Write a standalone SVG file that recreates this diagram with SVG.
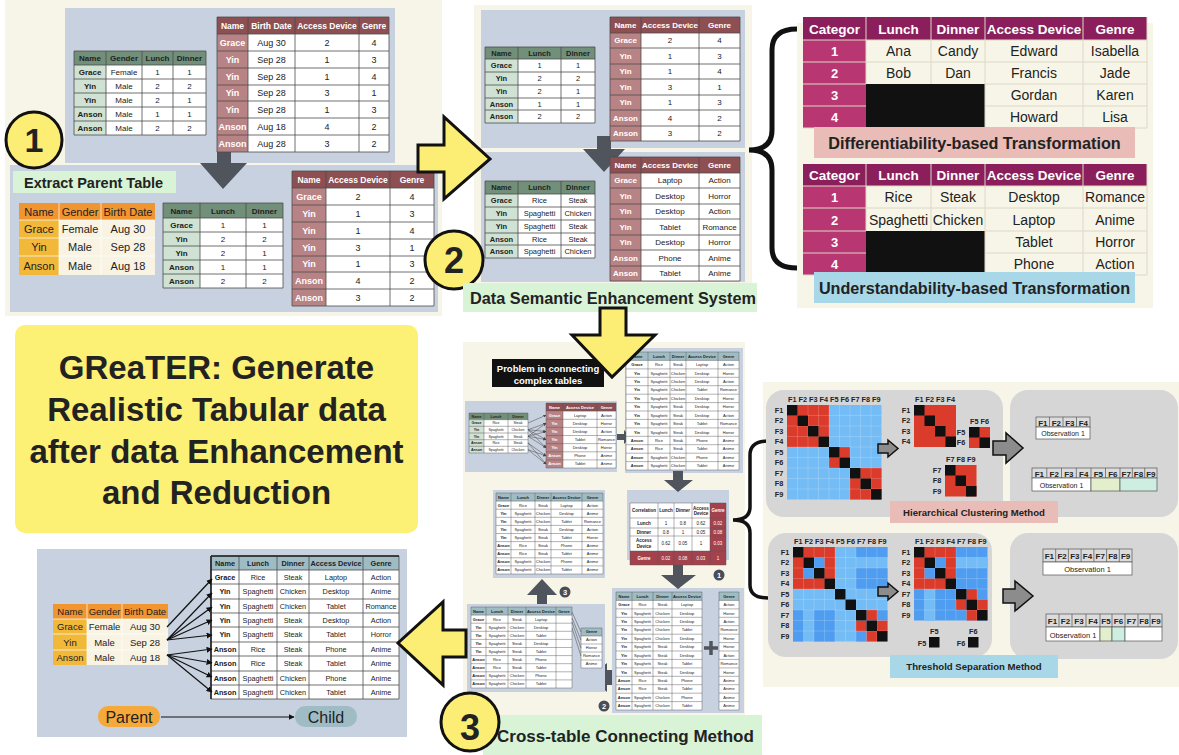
<svg xmlns="http://www.w3.org/2000/svg" width="1179" height="755" viewBox="0 0 1179 755">
<defs>
<style>
text{font-family:"Liberation Sans",Arial,Helvetica,sans-serif;text-anchor:middle;fill:#222}
.b{font-weight:bold}
.w{fill:#fff}
.st{text-anchor:start}
.cream{fill:#f7f5e7}
.pnl{fill:#c8d1df}
.gr{fill:none;stroke:#4d4d4d;stroke-width:.8}
.gt{fill:none;stroke:#555;stroke-width:.45}
.lt{fill:none;stroke:#ddd8c6;stroke-width:1}
.wl{fill:none;stroke:#fff;stroke-width:1;opacity:.7}
.ml{fill:none;stroke:#fff;stroke-width:.5;opacity:.35}
.dk{fill:#50545c}
.yel{fill:#fcee74;stroke:#111;stroke-width:3;stroke-linejoin:miter}
.gh{fill:#718f79}.gn{fill:#cfe2d3}
.mh{fill:#8d4f52}.mn{fill:#b88385}
.oh{fill:#f0952f}.on{fill:#f2b83a}.od{fill:#f8f3e3}
.th{fill:#9fbcc4}
.wh{fill:#fff}
.red{fill:#db3b2b}.lb{fill:#74bcf5}.mb{fill:#4f9df0}.blk{fill:#111}
.gp{fill:#d6d6d6}
.ga{fill:#8c8c8c;stroke:#111;stroke-width:1.5;stroke-linejoin:miter}
.sc{fill:#4a4d55}
.mg{fill:#8a1f5c}.mc{fill:#b83672}
.hd{fill:#dcdcdc;stroke:#555;stroke-width:.7}
.ob{stroke:#555;stroke-width:.7}
.cn{fill:none;stroke:#111;stroke-width:1.2}
.cs{fill:none;stroke:#444;stroke-width:.5}
</style>
<marker id="ah" viewBox="0 0 10 10" refX="9" refY="5" markerWidth="5" markerHeight="5" orient="auto"><path d="M0,0L10,5L0,10z" fill="#111"/></marker>
<marker id="ahs" viewBox="0 0 10 10" refX="9" refY="5" markerWidth="6" markerHeight="6" orient="auto"><path d="M0,0L10,5L0,10z" fill="#444"/></marker>
</defs>
<rect x="0" y="0" width="1179" height="755" fill="#fff"/>

<!-- ===== Panel 1 ===== -->
<g id="panel1">
<rect class="cream" x="5" y="0" width="437" height="316"/>
<rect class="pnl" x="65" y="8" width="330" height="155"/>
<rect class="pnl" x="10" y="165" width="428" height="147"/>
<polygon class="dk" points="217,148 231,148 231,163 247,163 223,189 200,163 217,163"/>
</g>

<g id="tblA" font-size="8">
<rect class="wh" x="74" y="51" width="132" height="84"/>
<rect class="gh" x="74" y="51" width="132" height="14"/>
<rect class="gn" x="74" y="65" width="32" height="70"/>
<path class="gr" d="M74 51V135M106 51V135M142 51V135M173 51V135M206 51V135M74 51H206M74 65H206M74 79H206M74 93H206M74 107H206M74 121H206M74 135H206"/>
<text y="61" class="b"><tspan x="90">Name</tspan><tspan x="124">Gender</tspan><tspan x="157.5">Lunch</tspan><tspan x="189.5">Dinner</tspan></text>
<text y="75"><tspan x="90" class="b">Grace</tspan><tspan x="124">Female</tspan><tspan x="157.5">1</tspan><tspan x="189.5">1</tspan></text>
<text y="89"><tspan x="90" class="b">Yin</tspan><tspan x="124">Male</tspan><tspan x="157.5">2</tspan><tspan x="189.5">2</tspan></text>
<text y="103"><tspan x="90" class="b">Yin</tspan><tspan x="124">Male</tspan><tspan x="157.5">2</tspan><tspan x="189.5">1</tspan></text>
<text y="117"><tspan x="90" class="b">Anson</tspan><tspan x="124">Male</tspan><tspan x="157.5">1</tspan><tspan x="189.5">1</tspan></text>
<text y="131"><tspan x="90" class="b">Anson</tspan><tspan x="124">Male</tspan><tspan x="157.5">2</tspan><tspan x="189.5">2</tspan></text>
</g>

<g id="tblB" font-size="9">
<rect class="wh" x="217" y="17" width="172" height="135"/>
<rect class="mh" x="217" y="17" width="172" height="17"/>
<rect class="mn" x="217" y="34" width="31" height="118"/>
<path class="gr" d="M217 17V152M248 17V152M295 17V152M359 17V152M389 17V152M217 17H389M217 34H389M217 51H389M217 68H389M217 85H389M217 101H389M217 118H389M217 135H389M217 152H389"/>
<text y="28.5" class="b w" font-size="8.5"><tspan x="232.5">Name</tspan><tspan x="271.5">Birth Date</tspan><tspan x="327">Access Device</tspan><tspan x="374">Genre</tspan></text>
<text y="45.5"><tspan x="232.5" class="b w">Grace</tspan><tspan x="271.5">Aug 30</tspan><tspan x="327">2</tspan><tspan x="374">4</tspan></text>
<text y="62.5"><tspan x="232.5" class="b w">Yin</tspan><tspan x="271.5">Sep 28</tspan><tspan x="327">1</tspan><tspan x="374">3</tspan></text>
<text y="79.5"><tspan x="232.5" class="b w">Yin</tspan><tspan x="271.5">Sep 28</tspan><tspan x="327">1</tspan><tspan x="374">4</tspan></text>
<text y="96"><tspan x="232.5" class="b w">Yin</tspan><tspan x="271.5">Sep 28</tspan><tspan x="327">3</tspan><tspan x="374">1</tspan></text>
<text y="112.5"><tspan x="232.5" class="b w">Yin</tspan><tspan x="271.5">Sep 28</tspan><tspan x="327">1</tspan><tspan x="374">3</tspan></text>
<text y="129.5"><tspan x="232.5" class="b w">Anson</tspan><tspan x="271.5">Aug 18</tspan><tspan x="327">4</tspan><tspan x="374">2</tspan></text>
<text y="146.5"><tspan x="232.5" class="b w">Anson</tspan><tspan x="271.5">Aug 28</tspan><tspan x="327">3</tspan><tspan x="374">2</tspan></text>
</g>

<g id="label-extract">
<rect x="13" y="171" width="163" height="22" fill="#d8f3d6"/>
<text x="24" y="188" class="b st" font-size="14.5">Extract Parent Table</text>
</g>

<g id="tblParent1" font-size="11">
<rect class="od" x="19" y="203" width="136" height="72"/>
<rect class="oh" x="19" y="203" width="136" height="17"/>
<rect class="on" x="19" y="220" width="40" height="55"/>
<path class="wl" d="M59 203V275M101 203V275M19 220H155M19 238H155M19 256H155"/>
<text y="215.5"><tspan x="39">Name</tspan><tspan x="80">Gender</tspan><tspan x="128">Birth Date</tspan></text>
<text y="233"><tspan x="39">Grace</tspan><tspan x="80">Female</tspan><tspan x="128">Aug 30</tspan></text>
<text y="251"><tspan x="39">Yin</tspan><tspan x="80">Male</tspan><tspan x="128">Sep 28</tspan></text>
<text y="269.5"><tspan x="39">Anson</tspan><tspan x="80">Male</tspan><tspan x="128">Aug 18</tspan></text>
</g>

<g id="tblC" font-size="8">
<rect class="wh" x="163" y="203" width="120" height="85"/>
<rect class="gh" x="163" y="203" width="120" height="15"/>
<rect class="gn" x="163" y="218" width="37" height="70"/>
<path class="gr" d="M163 203V288M200 203V288M246 203V288M283 203V288M163 203H283M163 218H283M163 232H283M163 246H283M163 260H283M163 274H283M163 288H283"/>
<text y="213.5" class="b"><tspan x="181.5">Name</tspan><tspan x="223">Lunch</tspan><tspan x="264.5">Dinner</tspan></text>
<text y="228"><tspan x="181.5" class="b">Grace</tspan><tspan x="223">1</tspan><tspan x="264.5">1</tspan></text>
<text y="242"><tspan x="181.5" class="b">Yin</tspan><tspan x="223">2</tspan><tspan x="264.5">2</tspan></text>
<text y="256"><tspan x="181.5" class="b">Yin</tspan><tspan x="223">2</tspan><tspan x="264.5">1</tspan></text>
<text y="270"><tspan x="181.5" class="b">Anson</tspan><tspan x="223">1</tspan><tspan x="264.5">1</tspan></text>
<text y="284"><tspan x="181.5" class="b">Anson</tspan><tspan x="223">2</tspan><tspan x="264.5">2</tspan></text>
</g>

<g id="tblD1" font-size="9">
<rect class="wh" x="292" y="171" width="142" height="135"/>
<rect class="mh" x="292" y="171" width="142" height="17"/>
<rect class="mn" x="292" y="188" width="34" height="118"/>
<path class="gr" d="M292 171V306M326 171V306M390 171V306M434 171V306M292 171H434M292 188H434M292 205H434M292 222H434M292 239H434M292 256H434M292 272H434M292 289H434M292 306H434"/>
<text y="182.5" class="b w" font-size="8.5"><tspan x="309">Name</tspan><tspan x="358">Access Device</tspan><tspan x="412">Genre</tspan></text>
<text y="199.5"><tspan x="309" class="b w">Grace</tspan><tspan x="358">2</tspan><tspan x="412">4</tspan></text>
<text y="216.5"><tspan x="309" class="b w">Yin</tspan><tspan x="358">1</tspan><tspan x="412">3</tspan></text>
<text y="233.5"><tspan x="309" class="b w">Yin</tspan><tspan x="358">1</tspan><tspan x="412">4</tspan></text>
<text y="250.5"><tspan x="309" class="b w">Yin</tspan><tspan x="358">3</tspan><tspan x="412">1</tspan></text>
<text y="267"><tspan x="309" class="b w">Yin</tspan><tspan x="358">1</tspan><tspan x="412">3</tspan></text>
<text y="283.5"><tspan x="309" class="b w">Anson</tspan><tspan x="358">4</tspan><tspan x="412">2</tspan></text>
<text y="300.5"><tspan x="309" class="b w">Anson</tspan><tspan x="358">3</tspan><tspan x="412">2</tspan></text>
</g>

<g id="badge1">
<circle cx="34" cy="140" r="28" class="yel"/>
<text x="34" y="152" class="b" font-size="34" fill="#111">1</text>
</g>

<!-- ===== Panel 2 ===== -->
<g id="panel2">
<rect class="cream" x="474" y="5" width="278" height="305"/>
<rect class="pnl" x="481" y="10" width="264" height="138"/>
<rect class="pnl" x="481" y="152" width="264" height="130"/>
<polygon class="dk" points="597,136 611,136 611,149 625,149 604,172 583,149 597,149"/>
</g>

<g id="tblE" font-size="7.5">
<rect class="wh" x="485" y="47" width="110" height="76"/>
<rect class="gh" x="485" y="47" width="110" height="12"/>
<rect class="gn" x="485" y="59" width="33" height="64"/>
<path class="gr" d="M485 47V123M518 47V123M561 47V123M595 47V123M485 47H595M485 59H595M485 72H595M485 85H595M485 98H595M485 110H595M485 123H595"/>
<text y="55.7" class="b"><tspan x="501.5">Name</tspan><tspan x="539.5">Lunch</tspan><tspan x="578">Dinner</tspan></text>
<text y="68.2"><tspan x="501.5" class="b">Grace</tspan><tspan x="539.5">1</tspan><tspan x="578">1</tspan></text>
<text y="81.2"><tspan x="501.5" class="b">Yin</tspan><tspan x="539.5">2</tspan><tspan x="578">2</tspan></text>
<text y="94.2"><tspan x="501.5" class="b">Yin</tspan><tspan x="539.5">2</tspan><tspan x="578">1</tspan></text>
<text y="106.7"><tspan x="501.5" class="b">Anson</tspan><tspan x="539.5">1</tspan><tspan x="578">1</tspan></text>
<text y="119.2"><tspan x="501.5" class="b">Anson</tspan><tspan x="539.5">2</tspan><tspan x="578">2</tspan></text>
</g>

<g id="tblF" font-size="8">
<rect class="wh" x="610" y="17" width="130" height="124"/>
<rect class="mh" x="610" y="17" width="130" height="16"/>
<rect class="mn" x="610" y="33" width="31" height="108"/>
<path class="gr" d="M610 17V141M641 17V141M699 17V141M740 17V141M610 17H740M610 33H740M610 48H740M610 64H740M610 79H740M610 95H740M610 110H740M610 126H740M610 141H740"/>
<text y="27.8" class="b w"><tspan x="625.5">Name</tspan><tspan x="670">Access Device</tspan><tspan x="719.5">Genre</tspan></text>
<text y="43.3"><tspan x="625.5" class="b w">Grace</tspan><tspan x="670">2</tspan><tspan x="719.5">4</tspan></text>
<text y="58.8"><tspan x="625.5" class="b w">Yin</tspan><tspan x="670">1</tspan><tspan x="719.5">3</tspan></text>
<text y="74.3"><tspan x="625.5" class="b w">Yin</tspan><tspan x="670">1</tspan><tspan x="719.5">4</tspan></text>
<text y="89.8"><tspan x="625.5" class="b w">Yin</tspan><tspan x="670">3</tspan><tspan x="719.5">1</tspan></text>
<text y="105.3"><tspan x="625.5" class="b w">Yin</tspan><tspan x="670">1</tspan><tspan x="719.5">3</tspan></text>
<text y="120.8"><tspan x="625.5" class="b w">Anson</tspan><tspan x="670">4</tspan><tspan x="719.5">2</tspan></text>
<text y="136.3"><tspan x="625.5" class="b w">Anson</tspan><tspan x="670">3</tspan><tspan x="719.5">2</tspan></text>
</g>

<g id="tblG" font-size="7.5">
<rect class="wh" x="485" y="181" width="110" height="77"/>
<rect class="gh" x="485" y="181" width="110" height="13"/>
<rect class="gn" x="485" y="194" width="33" height="64"/>
<path class="gr" d="M485 181V258M518 181V258M561 181V258M595 181V258M485 181H595M485 194H595M485 207H595M485 220H595M485 233H595M485 245H595M485 258H595"/>
<text y="190.2" class="b"><tspan x="501.5">Name</tspan><tspan x="539.5">Lunch</tspan><tspan x="578">Dinner</tspan></text>
<text y="203.2"><tspan x="501.5" class="b">Grace</tspan><tspan x="539.5">Rice</tspan><tspan x="578">Steak</tspan></text>
<text y="216.2"><tspan x="501.5" class="b">Yin</tspan><tspan x="539.5">Spaghetti</tspan><tspan x="578">Chicken</tspan></text>
<text y="229.2"><tspan x="501.5" class="b">Yin</tspan><tspan x="539.5">Spaghetti</tspan><tspan x="578">Steak</tspan></text>
<text y="241.7"><tspan x="501.5" class="b">Anson</tspan><tspan x="539.5">Rice</tspan><tspan x="578">Steak</tspan></text>
<text y="254.2"><tspan x="501.5" class="b">Anson</tspan><tspan x="539.5">Spaghetti</tspan><tspan x="578">Chicken</tspan></text>
</g>

<g id="tblH" font-size="8">
<rect class="wh" x="610" y="157" width="130" height="124"/>
<rect class="mh" x="610" y="157" width="130" height="16"/>
<rect class="mn" x="610" y="173" width="31" height="108"/>
<path class="gr" d="M610 157V281M641 157V281M699 157V281M740 157V281M610 157H740M610 173H740M610 188H740M610 204H740M610 219H740M610 235H740M610 250H740M610 266H740M610 281H740"/>
<text y="167.8" class="b w"><tspan x="625.5">Name</tspan><tspan x="670">Access Device</tspan><tspan x="719.5">Genre</tspan></text>
<text y="183.3"><tspan x="625.5" class="b w">Grace</tspan><tspan x="670">Laptop</tspan><tspan x="719.5">Action</tspan></text>
<text y="198.8"><tspan x="625.5" class="b w">Yin</tspan><tspan x="670">Desktop</tspan><tspan x="719.5">Horror</tspan></text>
<text y="214.3"><tspan x="625.5" class="b w">Yin</tspan><tspan x="670">Desktop</tspan><tspan x="719.5">Action</tspan></text>
<text y="229.8"><tspan x="625.5" class="b w">Yin</tspan><tspan x="670">Tablet</tspan><tspan x="719.5">Romance</tspan></text>
<text y="245.3"><tspan x="625.5" class="b w">Yin</tspan><tspan x="670">Desktop</tspan><tspan x="719.5">Horror</tspan></text>
<text y="260.8"><tspan x="625.5" class="b w">Anson</tspan><tspan x="670">Phone</tspan><tspan x="719.5">Anime</tspan></text>
<text y="276.3"><tspan x="625.5" class="b w">Anson</tspan><tspan x="670">Tablet</tspan><tspan x="719.5">Anime</tspan></text>
</g>

<g id="badge2">
<circle cx="454" cy="260" r="29" class="yel"/>
<text x="454" y="273" class="b" font-size="36" fill="#111">2</text>
</g>

<g id="label-dses">
<rect x="463" y="283" width="294" height="29" fill="#d8f3d6"/>
<text x="470" y="304" class="b st" font-size="16.3" fill="#111">Data Semantic Enhancement System</text>
</g>

<g id="arrow-1to2">
<polygon class="yel" points="418,145 444,145 444,117 490,159 444,199 444,172 418,172"/>
</g>

<!-- ===== Right top ===== -->
<g id="panel-transform">
<rect class="cream" x="797" y="23" width="356" height="285"/>
<path d="M797,29 Q772,29 772,50 L772,130 Q772,150 749,150 Q772,150 772,170 L772,248 Q772,268 797,268" fill="none" stroke="#111" stroke-width="5"/>
</g>

<g id="tblDiff" font-size="14">
<rect class="cream" x="803" y="17" width="344" height="111"/>
<rect class="mg" x="803" y="17" width="344" height="23"/>
<rect class="mc" x="803" y="40" width="63" height="88"/>
<rect class="blk" x="866" y="84" width="119" height="44"/>
<path class="lt" d="M866 17V84M931 17V84M985 17V128M1083 17V128M1147 17V128M803 40H1147M803 62H1147M803 84H866M985 84H1147M803 106H866M985 106H1147M803 128H1147"/>
<text y="33.5" class="b w" font-size="13.5"><tspan x="834.5">Categor</tspan><tspan x="898.5">Lunch</tspan><tspan x="958">Dinner</tspan><tspan x="1034">Access Device</tspan><tspan x="1115">Genre</tspan></text>
<text y="56"><tspan x="834.5" class="b w" font-size="13">1</tspan><tspan x="898.5">Ana</tspan><tspan x="958">Candy</tspan><tspan x="1034">Edward</tspan><tspan x="1115">Isabella</tspan></text>
<text y="78"><tspan x="834.5" class="b w" font-size="13">2</tspan><tspan x="898.5">Bob</tspan><tspan x="958">Dan</tspan><tspan x="1034">Francis</tspan><tspan x="1115">Jade</tspan></text>
<text y="100"><tspan x="834.5" class="b w" font-size="13">3</tspan><tspan x="1034">Gordan</tspan><tspan x="1115">Karen</tspan></text>
<text y="122"><tspan x="834.5" class="b w" font-size="13">4</tspan><tspan x="1034">Howard</tspan><tspan x="1115">Lisa</tspan></text>
</g>

<g id="label-diff">
<rect x="814" y="127" width="321" height="31" fill="#e9bcb7"/>
<text x="974.5" y="148.5" class="b" font-size="16.2" fill="#111">Differentiability-based Transformation</text>
</g>

<g id="tblUnd" font-size="14">
<rect class="cream" x="803" y="164" width="344" height="111"/>
<rect class="mg" x="803" y="164" width="344" height="22"/>
<rect class="mc" x="803" y="186" width="63" height="89"/>
<rect class="blk" x="866" y="231" width="119" height="44"/>
<path class="lt" d="M866 164V231M931 164V231M985 164V275M1083 164V275M1147 164V275M803 186H1147M803 208H1147M803 231H866M985 231H1147M803 253H866M985 253H1147M803 275H1147"/>
<text y="180" class="b w" font-size="13.5"><tspan x="834.5">Categor</tspan><tspan x="898.5">Lunch</tspan><tspan x="958">Dinner</tspan><tspan x="1034">Access Device</tspan><tspan x="1115">Genre</tspan></text>
<text y="202"><tspan x="834.5" class="b w" font-size="13">1</tspan><tspan x="898.5">Rice</tspan><tspan x="958">Steak</tspan><tspan x="1034">Desktop</tspan><tspan x="1115">Romance</tspan></text>
<text y="224.5"><tspan x="834.5" class="b w" font-size="13">2</tspan><tspan x="898.5">Spaghetti</tspan><tspan x="958">Chicken</tspan><tspan x="1034">Laptop</tspan><tspan x="1115">Anime</tspan></text>
<text y="247"><tspan x="834.5" class="b w" font-size="13">3</tspan><tspan x="1034">Tablet</tspan><tspan x="1115">Horror</tspan></text>
<text y="269"><tspan x="834.5" class="b w" font-size="13">4</tspan><tspan x="1034">Phone</tspan><tspan x="1115">Action</tspan></text>
</g>

<g id="label-und">
<rect x="814" y="272" width="321" height="31" fill="#a8d8e8"/>
<text x="974.5" y="294" class="b" font-size="16.2" fill="#111">Understandability-based Transformation</text>
</g>

<!-- ===== Title ===== -->
<g id="title">
<rect x="15" y="325" width="403" height="208" rx="10" fill="#fcf075"/>
<text x="216.5" y="379" class="b" font-size="33" fill="#000">GReaTER: Generate</text>
<text x="216.5" y="421" class="b" font-size="33" fill="#000">Realistic Tabular data</text>
<text x="216.5" y="463" class="b" font-size="33" fill="#000">after data Enhancement</text>
<text x="216.5" y="504" class="b" font-size="33" fill="#000">and Reduction</text>
</g>

<!-- ===== Bottom-left ===== -->
<g id="panel-pc">
<rect class="pnl" x="37" y="549" width="370" height="188"/>
</g>

<g id="tblParent2" font-size="9.5">
<rect class="od" x="53" y="604" width="115" height="61"/>
<rect class="oh" x="53" y="604" width="115" height="15"/>
<rect class="on" x="53" y="619" width="34" height="46"/>
<path class="wl" d="M87 604V665M122 604V665M53 619H168M53 634H168M53 650H168"/>
<text y="615"><tspan x="70">Name</tspan><tspan x="104.5">Gender</tspan><tspan x="145">Birth Date</tspan></text>
<text y="630"><tspan x="70">Grace</tspan><tspan x="104.5">Female</tspan><tspan x="145">Aug 30</tspan></text>
<text y="645.5"><tspan x="70">Yin</tspan><tspan x="104.5">Male</tspan><tspan x="145">Sep 28</tspan></text>
<text y="661"><tspan x="70">Anson</tspan><tspan x="104.5">Male</tspan><tspan x="145">Aug 18</tspan></text>
</g>

<g id="tblChild" font-size="7.3">
<rect class="wh" x="211" y="556" width="188" height="143"/>
<rect class="th" x="211" y="556" width="188" height="14"/>
<path class="gr" d="M211 556V699M239 556V699M277 556V699M309 556V699M363 556V699M399 556V699M211 556H399M211 570H399M211 584H399M211 599H399M211 613H399M211 627H399M211 642H399M211 656H399M211 671H399M211 685H399M211 699H399"/>
<path d="M211 556V699M211 556H399" fill="none" stroke="#222" stroke-width="1.6"/>
<text y="565.5" class="b"><tspan x="225">Name</tspan><tspan x="258">Lunch</tspan><tspan x="293">Dinner</tspan><tspan x="336">Access Device</tspan><tspan x="381">Genre</tspan></text>
<text y="579.5"><tspan x="225" class="b">Grace</tspan><tspan x="258">Rice</tspan><tspan x="293">Steak</tspan><tspan x="336">Laptop</tspan><tspan x="381">Action</tspan></text>
<text y="594"><tspan x="225" class="b">Yin</tspan><tspan x="258">Spaghetti</tspan><tspan x="293">Chicken</tspan><tspan x="336">Desktop</tspan><tspan x="381">Anime</tspan></text>
<text y="608.5"><tspan x="225" class="b">Yin</tspan><tspan x="258">Spaghetti</tspan><tspan x="293">Chicken</tspan><tspan x="336">Tablet</tspan><tspan x="381">Romance</tspan></text>
<text y="622.5"><tspan x="225" class="b">Yin</tspan><tspan x="258">Spaghetti</tspan><tspan x="293">Steak</tspan><tspan x="336">Desktop</tspan><tspan x="381">Action</tspan></text>
<text y="637"><tspan x="225" class="b">Yin</tspan><tspan x="258">Spaghetti</tspan><tspan x="293">Steak</tspan><tspan x="336">Tablet</tspan><tspan x="381">Horror</tspan></text>
<text y="651.5"><tspan x="225" class="b">Anson</tspan><tspan x="258">Rice</tspan><tspan x="293">Steak</tspan><tspan x="336">Phone</tspan><tspan x="381">Anime</tspan></text>
<text y="666"><tspan x="225" class="b">Anson</tspan><tspan x="258">Rice</tspan><tspan x="293">Steak</tspan><tspan x="336">Tablet</tspan><tspan x="381">Anime</tspan></text>
<text y="680.5"><tspan x="225" class="b">Anson</tspan><tspan x="258">Spaghetti</tspan><tspan x="293">Chicken</tspan><tspan x="336">Phone</tspan><tspan x="381">Anime</tspan></text>
<text y="694.5"><tspan x="225" class="b">Anson</tspan><tspan x="258">Spaghetti</tspan><tspan x="293">Chicken</tspan><tspan x="336">Tablet</tspan><tspan x="381">Anime</tspan></text>
</g>

<g id="pill-parent">
<rect x="98" y="706" width="62" height="21" rx="10" fill="#f5a93a"/>
<text x="129" y="722.5" font-size="16" fill="#111">Parent</text>
</g>
<g id="pill-child">
<rect x="295" y="706" width="62" height="21" rx="10" fill="#9fbcc4"/>
<text x="326" y="722.5" font-size="16" fill="#111">Child</text>
</g>

<g id="connectors-pc" marker-end="url(#ah)">
<line class="cn" x1="167" y1="627" x2="212" y2="579"/>
<line class="cn" x1="167" y1="640" x2="212" y2="593"/>
<line class="cn" x1="167" y1="640" x2="212" y2="607"/>
<line class="cn" x1="167" y1="640" x2="212" y2="620"/>
<line class="cn" x1="167" y1="640" x2="212" y2="635"/>
<line class="cn" x1="167" y1="655" x2="212" y2="649"/>
<line class="cn" x1="167" y1="655" x2="212" y2="663"/>
<line class="cn" x1="167" y1="655" x2="212" y2="677"/>
<line class="cn" x1="167" y1="655" x2="212" y2="692"/>
<line class="cn" x1="161" y1="717" x2="294" y2="717"/>
</g>

<!-- ===== Middle (section 3) ===== -->
<g id="panel3">
<rect class="cream" x="463" y="342" width="282" height="373"/>
<rect class="pnl" x="465" y="401" width="152" height="71"/>
<rect class="pnl" x="625" y="348" width="118" height="125"/>
<rect class="pnl" x="627" y="490" width="102" height="70"/>
<rect class="pnl" x="493" y="490" width="112" height="88"/>
<polygon class="dk" points="616,670 607,670 607,663 589,677 607,692 607,685 616,685"/>
<rect class="pnl" x="612" y="588" width="132" height="125"/>
<rect class="pnl" x="467" y="604" width="138" height="88"/>
<polygon class="dk" points="617,434 624,434 624,430 631,437 624,444 624,440 617,440"/>
<polygon class="dk" points="673,471 683,471 683,480 693,480 678,492 664,480 673,480"/>
<polygon class="dk" points="673,564 683,564 683,575 696,575 678,589 661,575 673,575"/>
<polygon class="dk" points="537,604 547,604 547,595 557,595 542,579 527,595 537,595"/>
</g>

<g id="problem-box">
<rect x="492" y="359" width="112" height="28" fill="#111"/>
<text x="548" y="372" class="b w" font-size="9.5">Problem in connecting</text>
<text x="548" y="384" class="b w" font-size="9.5">complex tables</text>
</g>

<g id="tblSG" font-size="3.6">
<rect class="wh" x="469" y="413" width="59" height="40"/>
<rect class="gh" x="469" y="413" width="59" height="6.7"/>
<rect class="gn" x="469" y="419.7" width="15" height="33.3"/>
<path class="gt" d="M469 413V453M484 413V453M508 413V453M528 413V453M469 413H528M469 419.7H528M469 426.3H528M469 433H528M469 439.7H528M469 446.3H528M469 453H528"/>
<text y="417.6" class="b"><tspan x="476.5">Name</tspan><tspan x="496">Lunch</tspan><tspan x="518">Dinner</tspan></text>
<text y="424.3"><tspan x="476.5" class="b">Grace</tspan><tspan x="496">Rice</tspan><tspan x="518">Steak</tspan></text>
<text y="431"><tspan x="476.5" class="b">Yin</tspan><tspan x="496">Spaghetti</tspan><tspan x="518">Chicken</tspan></text>
<text y="437.6"><tspan x="476.5" class="b">Yin</tspan><tspan x="496">Spaghetti</tspan><tspan x="518">Steak</tspan></text>
<text y="444.3"><tspan x="476.5" class="b">Anson</tspan><tspan x="496">Rice</tspan><tspan x="518">Steak</tspan></text>
<text y="451"><tspan x="476.5" class="b">Anson</tspan><tspan x="496">Spaghetti</tspan><tspan x="518">Chicken</tspan></text>
</g>

<g id="tblSM" font-size="4">
<rect class="wh" x="546" y="403" width="70" height="65"/>
<rect class="mh" x="546" y="403" width="70" height="8.1"/>
<rect class="mn" x="546" y="411.1" width="17" height="56.9"/>
<path class="gt" d="M546 403V468M563 403V468M597 403V468M616 403V468M546 403H616M546 411.1H616M546 419.3H616M546 427.4H616M546 435.5H616M546 443.6H616M546 451.8H616M546 459.9H616M546 468H616"/>
<text y="408.5" class="b w"><tspan x="554.5">Name</tspan><tspan x="580">Access Device</tspan><tspan x="606.5">Genre</tspan></text>
<text y="416.6"><tspan x="554.5" class="b w">Grace</tspan><tspan x="580">Laptop</tspan><tspan x="606.5">Action</tspan></text>
<text y="424.7"><tspan x="554.5" class="b w">Yin</tspan><tspan x="580">Desktop</tspan><tspan x="606.5">Horror</tspan></text>
<text y="432.9"><tspan x="554.5" class="b w">Yin</tspan><tspan x="580">Desktop</tspan><tspan x="606.5">Action</tspan></text>
<text y="441"><tspan x="554.5" class="b w">Yin</tspan><tspan x="580">Tablet</tspan><tspan x="606.5">Romance</tspan></text>
<text y="449.1"><tspan x="554.5" class="b w">Yin</tspan><tspan x="580">Desktop</tspan><tspan x="606.5">Horror</tspan></text>
<text y="457.2"><tspan x="554.5" class="b w">Anson</tspan><tspan x="580">Phone</tspan><tspan x="606.5">Anime</tspan></text>
<text y="465.4"><tspan x="554.5" class="b w">Anson</tspan><tspan x="580">Tablet</tspan><tspan x="606.5">Anime</tspan></text>
</g>

<g id="connectors-problem" marker-end="url(#ahs)">
<line class="cs" x1="528" y1="423" x2="546" y2="415.2"/>
<line class="cs" x1="528" y1="429.7" x2="546" y2="423.3"/>
<line class="cs" x1="528" y1="429.7" x2="546" y2="431.5"/>
<line class="cs" x1="528" y1="429.7" x2="546" y2="439.6"/>
<line class="cs" x1="528" y1="429.7" x2="546" y2="447.7"/>
<line class="cs" x1="528" y1="436.3" x2="546" y2="423.3"/>
<line class="cs" x1="528" y1="436.3" x2="546" y2="431.5"/>
<line class="cs" x1="528" y1="436.3" x2="546" y2="439.6"/>
<line class="cs" x1="528" y1="436.3" x2="546" y2="447.7"/>
<line class="cs" x1="528" y1="443" x2="546" y2="455.9"/>
<line class="cs" x1="528" y1="443" x2="546" y2="464"/>
<line class="cs" x1="528" y1="449.7" x2="546" y2="455.9"/>
<line class="cs" x1="528" y1="449.7" x2="546" y2="464"/>
</g>

<g id="tblJoined" font-size="4">
<rect class="wh" x="626" y="352" width="113" height="118"/>
<rect class="th" x="626" y="352" width="113" height="8.4"/>
<path class="gt" d="M626 352V470M648 352V470M670 352V470M686 352V470M718 352V470M739 352V470M626 352H739M626 360.4H739M626 368.9H739M626 377.3H739M626 385.7H739M626 394.2H739M626 402.6H739M626 411H739M626 419.4H739M626 427.9H739M626 436.3H739M626 444.7H739M626 453.2H739M626 461.6H739M626 470H739"/>
<text y="357.6" class="b"><tspan x="637">Name</tspan><tspan x="659">Lunch</tspan><tspan x="678">Dinner</tspan><tspan x="702">Access Device</tspan><tspan x="728.5">Genre</tspan></text>
<text y="366"><tspan x="637" class="b">Grace</tspan><tspan x="659">Rice</tspan><tspan x="678">Steak</tspan><tspan x="702">Laptop</tspan><tspan x="728.5">Action</tspan></text>
<text y="374.5"><tspan x="637" class="b">Yin</tspan><tspan x="659">Spaghetti</tspan><tspan x="678">Chicken</tspan><tspan x="702">Desktop</tspan><tspan x="728.5">Horror</tspan></text>
<text y="382.9"><tspan x="637" class="b">Yin</tspan><tspan x="659">Spaghetti</tspan><tspan x="678">Chicken</tspan><tspan x="702">Desktop</tspan><tspan x="728.5">Action</tspan></text>
<text y="391.3"><tspan x="637" class="b">Yin</tspan><tspan x="659">Spaghetti</tspan><tspan x="678">Chicken</tspan><tspan x="702">Tablet</tspan><tspan x="728.5">Romance</tspan></text>
<text y="399.8"><tspan x="637" class="b">Yin</tspan><tspan x="659">Spaghetti</tspan><tspan x="678">Chicken</tspan><tspan x="702">Desktop</tspan><tspan x="728.5">Horror</tspan></text>
<text y="408.2"><tspan x="637" class="b">Yin</tspan><tspan x="659">Spaghetti</tspan><tspan x="678">Steak</tspan><tspan x="702">Desktop</tspan><tspan x="728.5">Horror</tspan></text>
<text y="416.6"><tspan x="637" class="b">Yin</tspan><tspan x="659">Spaghetti</tspan><tspan x="678">Steak</tspan><tspan x="702">Desktop</tspan><tspan x="728.5">Action</tspan></text>
<text y="425"><tspan x="637" class="b">Yin</tspan><tspan x="659">Spaghetti</tspan><tspan x="678">Steak</tspan><tspan x="702">Tablet</tspan><tspan x="728.5">Romance</tspan></text>
<text y="433.5"><tspan x="637" class="b">Yin</tspan><tspan x="659">Spaghetti</tspan><tspan x="678">Steak</tspan><tspan x="702">Desktop</tspan><tspan x="728.5">Horror</tspan></text>
<text y="441.9"><tspan x="637" class="b">Anson</tspan><tspan x="659">Rice</tspan><tspan x="678">Steak</tspan><tspan x="702">Phone</tspan><tspan x="728.5">Anime</tspan></text>
<text y="450.3"><tspan x="637" class="b">Anson</tspan><tspan x="659">Rice</tspan><tspan x="678">Steak</tspan><tspan x="702">Tablet</tspan><tspan x="728.5">Anime</tspan></text>
<text y="458.8"><tspan x="637" class="b">Anson</tspan><tspan x="659">Spaghetti</tspan><tspan x="678">Chicken</tspan><tspan x="702">Phone</tspan><tspan x="728.5">Anime</tspan></text>
<text y="467.2"><tspan x="637" class="b">Anson</tspan><tspan x="659">Spaghetti</tspan><tspan x="678">Chicken</tspan><tspan x="702">Tablet</tspan><tspan x="728.5">Anime</tspan></text>
</g>

<g id="tblCorr" font-size="4.5">
<rect class="wh" x="630" y="503" width="96" height="62"/>
<rect x="710" y="503" width="16" height="62" fill="#a3414c"/>
<rect x="630" y="551" width="96" height="14" fill="#a3414c"/>
<path class="gt" d="M630 503V565M658 503V565M674 503V565M692 503V565M710 503V565M726 503V565M630 503H726M630 518H726M630 528H726M630 536H726M630 551H726M630 565H726"/>
<text y="512" class="b"><tspan x="644">Correlation</tspan><tspan x="666">Lunch</tspan><tspan x="683">Dinner</tspan><tspan x="718" class="w">Genre</tspan></text>
<text x="701" y="509.5" class="b">Access</text>
<text x="701" y="514.5" class="b">Device</text>
<text y="524.6"><tspan x="644" class="b">Lunch</tspan><tspan x="666">1</tspan><tspan x="683">0.8</tspan><tspan x="701">0.62</tspan><tspan x="718" class="w">0.02</tspan></text>
<text y="533.6"><tspan x="644" class="b">Dinner</tspan><tspan x="666">0.8</tspan><tspan x="683">1</tspan><tspan x="701">0.05</tspan><tspan x="718" class="w">0.08</tspan></text>
<text x="644" y="542.3" class="b">Access</text>
<text x="644" y="547.6" class="b">Device</text>
<text y="545"><tspan x="666">0.62</tspan><tspan x="683">0.05</tspan><tspan x="701">1</tspan><tspan x="718" class="w">0.03</tspan></text>
<text y="559.6" class="w"><tspan x="644" class="b">Genre</tspan><tspan x="666">0.02</tspan><tspan x="683">0.08</tspan><tspan x="701">0.03</tspan><tspan x="718">1</tspan></text>
</g>

<g id="tblSplit" font-size="4">
<rect class="wh" x="616" y="592" width="86" height="118"/>
<rect class="th" x="616" y="592" width="86" height="8.4"/>
<path class="gt" d="M616 592V710M632 592V710M653 592V710M672 592V710M702 592V710M616 592H702M616 600.4H702M616 608.9H702M616 617.3H702M616 625.7H702M616 634.2H702M616 642.6H702M616 651H702M616 659.4H702M616 667.9H702M616 676.3H702M616 684.7H702M616 693.2H702M616 701.6H702M616 710H702"/>
<text y="597.6" class="b"><tspan x="624">Name</tspan><tspan x="642.5">Lunch</tspan><tspan x="662.5">Dinner</tspan><tspan x="687">Access Device</tspan></text>
<text y="606"><tspan x="624" class="b">Grace</tspan><tspan x="642.5">Rice</tspan><tspan x="662.5">Steak</tspan><tspan x="687">Laptop</tspan></text>
<text y="614.5"><tspan x="624" class="b">Yin</tspan><tspan x="642.5">Spaghetti</tspan><tspan x="662.5">Chicken</tspan><tspan x="687">Desktop</tspan></text>
<text y="622.9"><tspan x="624" class="b">Yin</tspan><tspan x="642.5">Spaghetti</tspan><tspan x="662.5">Chicken</tspan><tspan x="687">Desktop</tspan></text>
<text y="631.3"><tspan x="624" class="b">Yin</tspan><tspan x="642.5">Spaghetti</tspan><tspan x="662.5">Chicken</tspan><tspan x="687">Tablet</tspan></text>
<text y="639.8"><tspan x="624" class="b">Yin</tspan><tspan x="642.5">Spaghetti</tspan><tspan x="662.5">Chicken</tspan><tspan x="687">Desktop</tspan></text>
<text y="648.2"><tspan x="624" class="b">Yin</tspan><tspan x="642.5">Spaghetti</tspan><tspan x="662.5">Steak</tspan><tspan x="687">Desktop</tspan></text>
<text y="656.6"><tspan x="624" class="b">Yin</tspan><tspan x="642.5">Spaghetti</tspan><tspan x="662.5">Steak</tspan><tspan x="687">Desktop</tspan></text>
<text y="665"><tspan x="624" class="b">Yin</tspan><tspan x="642.5">Spaghetti</tspan><tspan x="662.5">Steak</tspan><tspan x="687">Tablet</tspan></text>
<text y="673.5"><tspan x="624" class="b">Yin</tspan><tspan x="642.5">Spaghetti</tspan><tspan x="662.5">Steak</tspan><tspan x="687">Desktop</tspan></text>
<text y="681.9"><tspan x="624" class="b">Anson</tspan><tspan x="642.5">Rice</tspan><tspan x="662.5">Steak</tspan><tspan x="687">Phone</tspan></text>
<text y="690.3"><tspan x="624" class="b">Anson</tspan><tspan x="642.5">Rice</tspan><tspan x="662.5">Steak</tspan><tspan x="687">Tablet</tspan></text>
<text y="698.8"><tspan x="624" class="b">Anson</tspan><tspan x="642.5">Spaghetti</tspan><tspan x="662.5">Chicken</tspan><tspan x="687">Phone</tspan></text>
<text y="707.2"><tspan x="624" class="b">Anson</tspan><tspan x="642.5">Spaghetti</tspan><tspan x="662.5">Chicken</tspan><tspan x="687">Tablet</tspan></text>
</g>

<g id="tblSplitGenre" font-size="4">
<rect class="wh" x="719" y="592" width="20" height="118"/>
<rect class="th" x="719" y="592" width="20" height="8.4"/>
<path class="gt" d="M719 592V710M739 592V710M719 592H739M719 600.4H739M719 608.9H739M719 617.3H739M719 625.7H739M719 634.2H739M719 642.6H739M719 651H739M719 659.4H739M719 667.9H739M719 676.3H739M719 684.7H739M719 693.2H739M719 701.6H739M719 710H739"/>
<text x="729" y="597.6" class="b">Genre</text>
<text x="729" y="606">Action</text>
<text x="729" y="614.5">Horror</text>
<text x="729" y="622.9">Action</text>
<text x="729" y="631.3">Romance</text>
<text x="729" y="639.8">Horror</text>
<text x="729" y="648.2">Horror</text>
<text x="729" y="656.6">Action</text>
<text x="729" y="665">Romance</text>
<text x="729" y="673.5">Horror</text>
<text x="729" y="681.9">Anime</text>
<text x="729" y="690.3">Anime</text>
<text x="729" y="698.8">Anime</text>
<text x="729" y="707.2">Anime</text>
</g>
<path id="plus" d="M704 648H718M711 641V655" stroke="#50545c" stroke-width="3.5" fill="none"/>

<g id="tblMerge" font-size="4">
<rect class="wh" x="471" y="607" width="101" height="81"/>
<rect class="th" x="471" y="607" width="101" height="8.1"/>
<path class="gt" d="M471 607V688M486 607V688M508 607V688M526 607V688M556 607V688M572 607V688M471 607H572M471 615.1H572M471 623.2H572M471 631.3H572M471 639.4H572M471 647.5H572M471 655.6H572M471 663.7H572M471 671.8H572M471 679.9H572M471 688H572"/>
<text y="612.5" class="b"><tspan x="478.5">Name</tspan><tspan x="497">Lunch</tspan><tspan x="517">Dinner</tspan><tspan x="541">Access Device</tspan><tspan x="564">Genre</tspan></text>
<text y="620.6"><tspan x="478.5" class="b">Grace</tspan><tspan x="497">Rice</tspan><tspan x="517">Steak</tspan><tspan x="541">Laptop</tspan></text>
<text y="628.7"><tspan x="478.5" class="b">Yin</tspan><tspan x="497">Spaghetti</tspan><tspan x="517">Chicken</tspan><tspan x="541">Desktop</tspan></text>
<text y="636.8"><tspan x="478.5" class="b">Yin</tspan><tspan x="497">Spaghetti</tspan><tspan x="517">Chicken</tspan><tspan x="541">Tablet</tspan></text>
<text y="644.9"><tspan x="478.5" class="b">Yin</tspan><tspan x="497">Spaghetti</tspan><tspan x="517">Steak</tspan><tspan x="541">Desktop</tspan></text>
<text y="653"><tspan x="478.5" class="b">Yin</tspan><tspan x="497">Spaghetti</tspan><tspan x="517">Steak</tspan><tspan x="541">Tablet</tspan></text>
<text y="661.1"><tspan x="478.5" class="b">Anson</tspan><tspan x="497">Rice</tspan><tspan x="517">Steak</tspan><tspan x="541">Phone</tspan></text>
<text y="669.2"><tspan x="478.5" class="b">Anson</tspan><tspan x="497">Rice</tspan><tspan x="517">Steak</tspan><tspan x="541">Tablet</tspan></text>
<text y="677.3"><tspan x="478.5" class="b">Anson</tspan><tspan x="497">Spaghetti</tspan><tspan x="517">Chicken</tspan><tspan x="541">Phone</tspan></text>
<text y="685.4"><tspan x="478.5" class="b">Anson</tspan><tspan x="497">Spaghetti</tspan><tspan x="517">Chicken</tspan><tspan x="541">Tablet</tspan></text>
</g>

<g id="tblMergeGenre" font-size="4">
<rect class="wh" x="581" y="628" width="21" height="40"/>
<rect class="th" x="581" y="628" width="21" height="8"/>
<path class="gt" d="M581 628V668M602 628V668M581 628H602M581 636H602M581 644H602M581 652H602M581 660H602M581 668H602"/>
<text x="591.5" y="633.4" class="b">Genre</text>
<text x="591.5" y="641.4">Action</text>
<text x="591.5" y="649.4">Horror</text>
<text x="591.5" y="657.4">Romance</text>
<text x="591.5" y="665.4">Anime</text>
</g>
<g id="connectors-genre">
<line class="cs" x1="572" y1="612" x2="581" y2="632"/>
<line class="cs" x1="572" y1="618" x2="581" y2="640"/>
<line class="cs" x1="572" y1="622" x2="581" y2="648"/>
<line class="cs" x1="572" y1="628" x2="581" y2="656"/>
</g>

<g id="tblFinal" font-size="4">
<rect class="wh" x="496" y="493" width="107" height="81"/>
<rect class="th" x="496" y="493" width="107" height="8.1"/>
<path class="gt" d="M496 493V574M511 493V574M535 493V574M551 493V574M582 493V574M603 493V574M496 493H603M496 501.1H603M496 509.2H603M496 517.3H603M496 525.4H603M496 533.5H603M496 541.6H603M496 549.7H603M496 557.8H603M496 565.9H603M496 574H603"/>
<text y="498.5" class="b"><tspan x="503.5">Name</tspan><tspan x="523">Lunch</tspan><tspan x="543">Dinner</tspan><tspan x="566.5">Access Device</tspan><tspan x="592.5">Genre</tspan></text>
<text y="506.6"><tspan x="503.5" class="b">Grace</tspan><tspan x="523">Rice</tspan><tspan x="543">Steak</tspan><tspan x="566.5">Laptop</tspan><tspan x="592.5">Action</tspan></text>
<text y="514.7"><tspan x="503.5" class="b">Yin</tspan><tspan x="523">Spaghetti</tspan><tspan x="543">Chicken</tspan><tspan x="566.5">Desktop</tspan><tspan x="592.5">Anime</tspan></text>
<text y="522.8"><tspan x="503.5" class="b">Yin</tspan><tspan x="523">Spaghetti</tspan><tspan x="543">Chicken</tspan><tspan x="566.5">Tablet</tspan><tspan x="592.5">Romance</tspan></text>
<text y="530.9"><tspan x="503.5" class="b">Yin</tspan><tspan x="523">Spaghetti</tspan><tspan x="543">Steak</tspan><tspan x="566.5">Desktop</tspan><tspan x="592.5">Action</tspan></text>
<text y="539"><tspan x="503.5" class="b">Yin</tspan><tspan x="523">Spaghetti</tspan><tspan x="543">Steak</tspan><tspan x="566.5">Tablet</tspan><tspan x="592.5">Horror</tspan></text>
<text y="547.1"><tspan x="503.5" class="b">Anson</tspan><tspan x="523">Rice</tspan><tspan x="543">Steak</tspan><tspan x="566.5">Phone</tspan><tspan x="592.5">Anime</tspan></text>
<text y="555.2"><tspan x="503.5" class="b">Anson</tspan><tspan x="523">Rice</tspan><tspan x="543">Steak</tspan><tspan x="566.5">Tablet</tspan><tspan x="592.5">Anime</tspan></text>
<text y="563.3"><tspan x="503.5" class="b">Anson</tspan><tspan x="523">Spaghetti</tspan><tspan x="543">Chicken</tspan><tspan x="566.5">Phone</tspan><tspan x="592.5">Anime</tspan></text>
<text y="571.4"><tspan x="503.5" class="b">Anson</tspan><tspan x="523">Spaghetti</tspan><tspan x="543">Chicken</tspan><tspan x="566.5">Tablet</tspan><tspan x="592.5">Anime</tspan></text>
</g>

<g id="step-badges" font-size="7.5">
<circle cx="719" cy="575" r="5.5" class="sc"/><text x="719" y="577.7" class="b w">1</text>
<circle cx="604" cy="706" r="5.5" class="sc"/><text x="604" y="708.7" class="b w">2</text>
<circle cx="565" cy="592" r="5.5" class="sc"/><text x="565" y="594.7" class="b w">3</text>
</g>

<g id="arrow-2to3">
<polygon class="yel" points="600,308 626,308 626,335 655,335 612,377 572,335 600,335"/>
</g>

<g id="arrow-3toOut">
<polygon class="yel" points="466,630 443,630 443,602 398,643 443,685 443,657 466,657"/>
</g>

<g id="label-ctcm">
<rect x="483" y="715" width="279" height="40" fill="#d8f3d6"/>
<text x="497" y="742" class="b st" font-size="17" fill="#111">Cross-table Connecting Method</text>
</g>
<g id="badge3">
<circle cx="470" cy="722" r="29" class="yel"/>
<text x="470" y="740" class="b" font-size="36" fill="#111">3</text>
</g>

<!-- ===== Right middle (reduction) ===== -->
<g id="panel-reduce">
<rect class="cream" x="763" y="382" width="416" height="305"/>
<path d="M768,441 Q750,441 750,455 L750,507 Q750,520 733,520 Q750,520 750,533 L750,585 Q750,598 768,598" fill="none" stroke="#111" stroke-width="3.5"/>
<rect class="gp" x="766" y="390" width="237" height="127" rx="18"/>
<rect class="gp" x="1010" y="390" width="168" height="127" rx="18"/>
<rect class="gp" x="768" y="533" width="224" height="124" rx="18"/>
<rect class="gp" x="1010" y="533" width="168" height="126" rx="18"/>
</g>

<g id="matH1">
<rect class="lb" x="787" y="405" width="94.5" height="94.5"/>
<rect class="red" x="787" y="405" width="42" height="42"/>
<rect class="red" x="829" y="447" width="21" height="21"/>
<rect class="red" x="850" y="468" width="31.5" height="31.5"/>
<path class="ml" d="M797.5 405V499.5M808 405V499.5M818.5 405V499.5M829 405V499.5M839.5 405V499.5M850 405V499.5M860.5 405V499.5M871 405V499.5M787 415.5H881.5M787 426H881.5M787 436.5H881.5M787 447H881.5M787 457.5H881.5M787 468H881.5M787 478.5H881.5M787 489H881.5"/>
<g class="blk"><rect x="787" y="405" width="10.5" height="10.5"/><rect x="797.5" y="415.5" width="10.5" height="10.5"/><rect x="808" y="426" width="10.5" height="10.5"/><rect x="818.5" y="436.5" width="10.5" height="10.5"/><rect x="829" y="447" width="10.5" height="10.5"/><rect x="839.5" y="457.5" width="10.5" height="10.5"/><rect x="850" y="468" width="10.5" height="10.5"/><rect x="860.5" y="478.5" width="10.5" height="10.5"/><rect x="871" y="489" width="10.5" height="10.5"/></g>
<text y="402" class="b" font-size="7.3"><tspan x="792.3">F1</tspan><tspan x="802.8">F2</tspan><tspan x="813.3">F3</tspan><tspan x="823.8">F4</tspan><tspan x="834.3">F5</tspan><tspan x="844.8">F6</tspan><tspan x="855.3">F7</tspan><tspan x="865.8">F8</tspan><tspan x="876.3">F9</tspan></text>
<g class="b" font-size="7.3"><text x="779" y="412.8" class="b">F1</text><text x="779" y="423.3" class="b">F2</text><text x="779" y="433.8" class="b">F3</text><text x="779" y="444.3" class="b">F4</text><text x="779" y="454.8" class="b">F5</text><text x="779" y="465.3" class="b">F6</text><text x="779" y="475.8" class="b">F7</text><text x="779" y="486.3" class="b">F8</text><text x="779" y="496.8" class="b">F9</text></g>
</g>

<polygon class="ga" points="878,444 888,444 888,440 898,448.5 888,457 888,453 878,453"/>

<g id="matH2">
<rect class="red" x="914" y="405" width="42" height="42"/>
<rect class="red" x="969" y="427" width="21" height="21"/>
<rect class="red" x="945" y="465" width="31.5" height="31.5"/>
<g class="blk"><rect x="914" y="405" width="10.5" height="10.5"/><rect x="924.5" y="415.5" width="10.5" height="10.5"/><rect x="935" y="426" width="10.5" height="10.5"/><rect x="945.5" y="436.5" width="10.5" height="10.5"/><rect x="969" y="427" width="10.5" height="10.5"/><rect x="979.5" y="437.5" width="10.5" height="10.5"/><rect x="945" y="465" width="10.5" height="10.5"/><rect x="955.5" y="475.5" width="10.5" height="10.5"/><rect x="966" y="486" width="10.5" height="10.5"/></g>
<g font-size="7.3">
<text y="402" class="b"><tspan x="919.3">F1</tspan><tspan x="929.8">F2</tspan><tspan x="940.3">F3</tspan><tspan x="950.8">F4</tspan></text>
<text x="906" y="412.8" class="b">F1</text><text x="906" y="423.3" class="b">F2</text><text x="906" y="433.8" class="b">F3</text><text x="906" y="444.3" class="b">F4</text>
<text y="424" class="b"><tspan x="974.3">F5</tspan><tspan x="984.8">F6</tspan></text>
<text x="961" y="434.8" class="b">F5</text><text x="961" y="445.3" class="b">F6</text>
<text y="462" class="b"><tspan x="950.3">F7</tspan><tspan x="960.8">F8</tspan><tspan x="971.3">F9</tspan></text>
<text x="937" y="472.8" class="b">F7</text><text x="937" y="483.3" class="b">F8</text><text x="937" y="493.8" class="b">F9</text>
</g>
</g>

<polygon class="ga" points="993,441 1006,441 1006,433 1023,448 1006,463 1006,455 993,455"/>

<g id="obsH">
<rect class="hd" x="1036" y="417" width="54" height="10"/>
<path class="ob" d="M1049.5 417V427M1063 417V427M1076.5 417V427"/>
<rect x="1036" y="427" width="54" height="12" fill="#fff" class="ob"/>
<text y="425.5" class="b" font-size="8"><tspan x="1042.8">F1</tspan><tspan x="1056.3">F2</tspan><tspan x="1069.8">F3</tspan><tspan x="1083.3">F4</tspan></text>
<text x="1063" y="436" font-size="7">Observation 1</text>
<rect class="hd" x="1032" y="468" width="125" height="10"/>
<path class="ob" d="M1046.8 468V478M1061.5 468V478M1076.3 468V478M1091 468V478M1105.5 468V478M1120 468V478M1132.3 468V478M1144.7 468V478"/>
<rect x="1032" y="478" width="59" height="13" fill="#fff" class="ob"/>
<rect x="1091" y="478" width="29" height="13" fill="#e3efcc" class="ob"/>
<rect x="1120" y="478" width="37" height="13" fill="#cdeee0" class="ob"/>
<text y="476.5" class="b" font-size="8"><tspan x="1039.4">F1</tspan><tspan x="1054.2">F2</tspan><tspan x="1068.9">F3</tspan><tspan x="1083.7">F4</tspan><tspan x="1098.3">F5</tspan><tspan x="1112.8">F6</tspan><tspan x="1126.2">F7</tspan><tspan x="1138.5">F8</tspan><tspan x="1150.9">F9</tspan></text>
<text x="1061.5" y="488" font-size="7">Observation 1</text>
</g>

<g id="label-hcm">
<rect x="890" y="501" width="168" height="22" fill="#e9bcb7"/>
<text x="974" y="515.5" class="b" font-size="9.6" fill="#111">Hierarchical Clustering Method</text>
</g>

<g id="matT1">
<rect class="lb" x="793" y="547" width="94.5" height="94.5"/>
<rect class="red" x="793" y="547" width="42" height="42"/>
<g class="mb"><rect x="856" y="547" width="31.5" height="10.5"/><rect x="856" y="568" width="31.5" height="21"/><rect x="793" y="610" width="10.5" height="31.5"/><rect x="814" y="610" width="21" height="31.5"/><rect x="877" y="610" width="10.5" height="10.5"/><rect x="856" y="631" width="10.5" height="10.5"/><rect x="814" y="557.5" width="10.5" height="10.5"/><rect x="803.5" y="568" width="10.5" height="10.5"/></g>
<g class="red"><rect x="866.5" y="610" width="10.5" height="10.5"/><rect x="856" y="620.5" width="10.5" height="10.5"/><rect x="877" y="620.5" width="10.5" height="10.5"/><rect x="866.5" y="631" width="10.5" height="10.5"/></g>
<path class="ml" d="M803.5 547V641.5M814 547V641.5M824.5 547V641.5M835 547V641.5M845.5 547V641.5M856 547V641.5M866.5 547V641.5M877 547V641.5M793 557.5H887.5M793 568H887.5M793 578.5H887.5M793 589H887.5M793 599.5H887.5M793 610H887.5M793 620.5H887.5M793 631H887.5"/>
<g class="blk"><rect x="793" y="547" width="10.5" height="10.5"/><rect x="803.5" y="557.5" width="10.5" height="10.5"/><rect x="814" y="568" width="10.5" height="10.5"/><rect x="824.5" y="578.5" width="10.5" height="10.5"/><rect x="835" y="589" width="10.5" height="10.5"/><rect x="845.5" y="599.5" width="10.5" height="10.5"/><rect x="856" y="610" width="10.5" height="10.5"/><rect x="866.5" y="620.5" width="10.5" height="10.5"/><rect x="877" y="631" width="10.5" height="10.5"/></g>
<g font-size="7.3">
<text y="544" class="b"><tspan x="798.3">F1</tspan><tspan x="808.8">F2</tspan><tspan x="819.3">F3</tspan><tspan x="829.8">F4</tspan><tspan x="840.3">F5</tspan><tspan x="850.8">F6</tspan><tspan x="861.3">F7</tspan><tspan x="871.8">F8</tspan><tspan x="882.3">F9</tspan></text>
<text x="785" y="554.8" class="b">F1</text><text x="785" y="565.3" class="b">F2</text><text x="785" y="575.8" class="b">F3</text><text x="785" y="586.3" class="b">F4</text><text x="785" y="596.8" class="b">F5</text><text x="785" y="607.3" class="b">F6</text><text x="785" y="617.8" class="b">F7</text><text x="785" y="628.3" class="b">F8</text><text x="785" y="638.8" class="b">F9</text>
</g>
</g>

<polygon class="ga" points="878,587 888,587 888,583 898,591.5 888,600 888,596 878,596"/>

<g id="matT2">
<rect class="mb" x="914" y="547" width="73.5" height="73.5"/>
<rect class="red" x="914" y="547" width="42" height="42"/>
<g class="mb"><rect x="935" y="557.5" width="10.5" height="10.5"/><rect x="924.5" y="568" width="10.5" height="10.5"/></g>
<g class="lb"><rect x="956" y="557.5" width="31.5" height="10.5"/><rect x="924.5" y="589" width="10.5" height="31.5"/></g>
<g class="red"><rect x="966.5" y="589" width="10.5" height="10.5"/><rect x="956" y="599.5" width="10.5" height="10.5"/><rect x="977" y="599.5" width="10.5" height="10.5"/><rect x="966.5" y="610" width="10.5" height="10.5"/></g>
<path class="ml" d="M924.5 547V620.5M935 547V620.5M945.5 547V620.5M956 547V620.5M966.5 547V620.5M977 547V620.5M914 557.5H987.5M914 568H987.5M914 578.5H987.5M914 589H987.5M914 599.5H987.5M914 610H987.5"/>
<g class="blk"><rect x="914" y="547" width="10.5" height="10.5"/><rect x="924.5" y="557.5" width="10.5" height="10.5"/><rect x="935" y="568" width="10.5" height="10.5"/><rect x="945.5" y="578.5" width="10.5" height="10.5"/><rect x="956" y="589" width="10.5" height="10.5"/><rect x="966.5" y="599.5" width="10.5" height="10.5"/><rect x="977" y="610" width="10.5" height="10.5"/><rect x="929" y="637" width="10.5" height="10.5"/><rect x="968" y="637" width="10.5" height="10.5"/></g>
<g font-size="7.3">
<text y="544" class="b"><tspan x="919.3">F1</tspan><tspan x="929.8">F2</tspan><tspan x="940.3">F3</tspan><tspan x="950.8">F4</tspan><tspan x="961.3">F7</tspan><tspan x="971.8">F8</tspan><tspan x="982.3">F9</tspan></text>
<text x="906" y="554.8" class="b">F1</text><text x="906" y="565.3" class="b">F2</text><text x="906" y="575.8" class="b">F3</text><text x="906" y="586.3" class="b">F4</text><text x="906" y="596.8" class="b">F7</text><text x="906" y="607.3" class="b">F8</text><text x="906" y="617.8" class="b">F9</text>
<text x="934.3" y="634" class="b">F5</text><text x="922" y="645.5" class="b">F5</text>
<text x="973.3" y="634" class="b">F6</text><text x="961" y="645.5" class="b">F6</text>
</g>
</g>

<polygon class="ga" points="1003,589 1015,589 1015,581 1033,596 1015,611 1015,603 1003,603"/>

<g id="obsT">
<rect class="hd" x="1043" y="549" width="89" height="13"/>
<path class="ob" d="M1055.7 549V562M1068.4 549V562M1081.1 549V562M1093.9 549V562M1106.6 549V562M1119.3 549V562"/>
<rect x="1043" y="562" width="89" height="13" fill="#fff" class="ob"/>
<text y="558.5" class="b" font-size="8"><tspan x="1049.4">F1</tspan><tspan x="1062.1">F2</tspan><tspan x="1074.8">F3</tspan><tspan x="1087.5">F4</tspan><tspan x="1100.2">F7</tspan><tspan x="1112.9">F8</tspan><tspan x="1125.6">F9</tspan></text>
<text x="1087.5" y="571.5" font-size="7.5">Observation 1</text>
<rect class="hd" x="1046" y="614" width="116" height="13"/>
<path class="ob" d="M1059 614V627M1072 614V627M1086 614V627M1100 614V627M1112 614V627M1125 614V627M1138 614V627M1150 614V627"/>
<rect x="1046" y="627" width="54" height="14" fill="#fff" class="ob"/>
<rect x="1100" y="627" width="12" height="14" fill="#e3efcc" class="ob"/>
<rect x="1112" y="627" width="13" height="14" fill="#cdeee0" class="ob"/>
<rect x="1125" y="627" width="37" height="14" fill="#fff" class="ob"/>
<text y="623.5" class="b" font-size="8"><tspan x="1052.5">F1</tspan><tspan x="1065.5">F2</tspan><tspan x="1079">F3</tspan><tspan x="1093">F4</tspan><tspan x="1106">F5</tspan><tspan x="1118.5">F6</tspan><tspan x="1131.5">F7</tspan><tspan x="1144">F8</tspan><tspan x="1156">F9</tspan></text>
<text x="1073" y="637.5" font-size="7.5">Observation 1</text>
</g>

<g id="label-tsm">
<rect x="890" y="655" width="168" height="23" fill="#a8d8e8"/>
<text x="974" y="670" class="b" font-size="9.6" fill="#111">Threshold Separation Method</text>
</g>
</svg>
